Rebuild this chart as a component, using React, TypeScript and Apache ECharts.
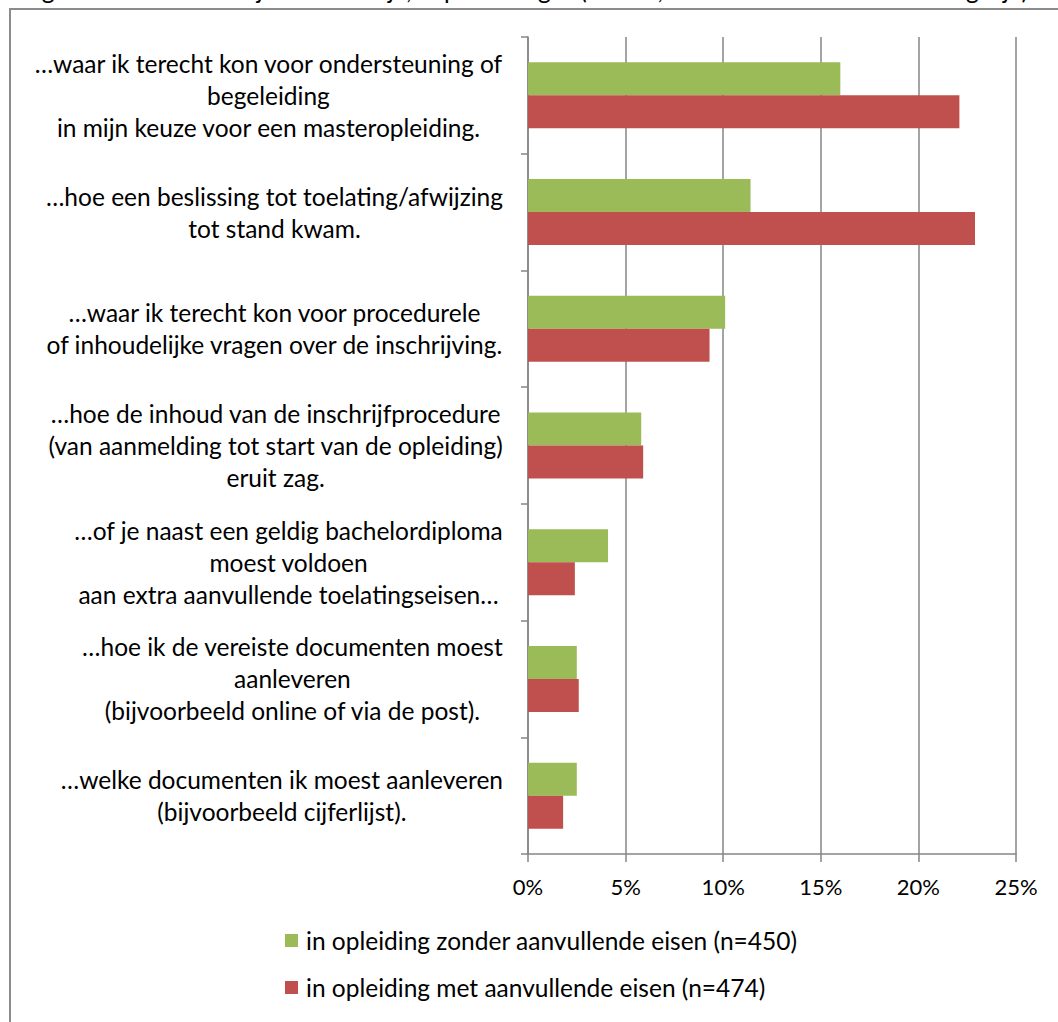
import React, { useEffect, useRef } from "react";
import * as echarts from "echarts";

const categories = [
  "…waar ik terecht kon voor ondersteuning of\nbegeleiding\nin mijn keuze voor een masteropleiding.",
  "…hoe een beslissing tot toelating/afwijzing\ntot stand kwam.",
  "…waar ik terecht kon voor procedurele\nof inhoudelijke vragen over de inschrijving.",
  "…hoe de inhoud van de inschrijfprocedure\n(van aanmelding tot start van de opleiding)\neruit zag.",
  "…of je naast een geldig bachelordiploma\nmoest voldoen\naan extra aanvullende toelatingseisen…",
  "…hoe ik de vereiste documenten moest\naanleveren\n(bijvoorbeeld online of via de post).",
  "…welke documenten ik moest aanleveren\n(bijvoorbeeld cijferlijst).",
];
const seriesNames = [
  "in opleiding zonder aanvullende eisen (n=450)",
  "in opleiding met aanvullende eisen (n=474)",
];
const zonderValues = [16.0, 11.4, 10.1, 5.8, 4.1, 2.5, 2.5];
const metValues = [22.1, 22.9, 9.3, 5.9, 2.4, 2.6, 1.8];
const xMin = 0;
const xMax = 25;
const xStep = 5;
const topText =
  "Figuur 3.4 Het was mij niet duidelijk, in percentages (n=924; meer dan één antwoord mogelijk)";

const FONT = "Lato";
const LABEL_SIZE = 24.5;
const GRID_COLOR = "#868686";

export default function App() {
  const ref = useRef<HTMLDivElement>(null);
  useEffect(() => {
    if (!ref.current) return;
    const chart = echarts.init(ref.current, undefined, { renderer: "svg" });
    chart.setOption({
      animation: false,
      backgroundColor: "#ffffff",
      textStyle: { fontFamily: FONT },
      graphic: [
        {
          type: "rect",
          shape: { x: 10, y: 9, width: 1200, height: 1200 },
          style: { fill: "none", stroke: "#8c8c8c", lineWidth: 2 },
          silent: true,
        },
        {
          type: "text",
          x: 22,
          y: 2,
          style: {
            text: topText,
            font: `${LABEL_SIZE}px ${FONT}`,
            fill: "#000",
            textAlign: "left",
            textVerticalAlign: "bottom",
          },
          silent: true,
        },
      ],
      grid: { left: 528, right: 42, top: 37, bottom: 168, containLabel: false },
      legend: {
        orient: "vertical",
        left: 285,
        top: 928,
        itemWidth: 13,
        itemHeight: 13,
        itemGap: 22,
        icon: "rect",
        padding: 0,
        textStyle: {
          fontSize: LABEL_SIZE,
          color: "#000",
          fontFamily: FONT,
          padding: [0, 0, 0, 3],
        },
        data: seriesNames,
      },
      xAxis: {
        type: "value",
        min: xMin,
        max: xMax,
        interval: xStep,
        axisLine: { show: true, lineStyle: { color: GRID_COLOR, width: 1.5 } },
        axisTick: { show: true, length: 8, lineStyle: { color: GRID_COLOR, width: 1.5 } },
        axisLabel: {
          formatter: "{value}%",
          fontSize: 22,
          color: "#000",
          margin: 21,
          fontFamily: FONT,
        },
        splitLine: { show: true, lineStyle: { color: GRID_COLOR, width: 1.5 } },
      },
      yAxis: {
        type: "category",
        data: categories,
        inverse: true,
        axisLine: { show: true, lineStyle: { color: GRID_COLOR, width: 1.5 } },
        axisTick: { show: true, length: 7, lineStyle: { color: GRID_COLOR, width: 1.5 } },
        axisLabel: {
          align: "right",
          margin: 25,
          fontSize: LABEL_SIZE,
          lineHeight: 32,
          color: "#000",
          fontFamily: FONT,
          formatter: (v: string) =>
            v
              .split("\n")
              .map((l) => `{c|${l}}`)
              .join("\n"),
          rich: {
            c: {
              align: "center",
              fontSize: LABEL_SIZE,
              lineHeight: 32,
              color: "#000",
              fontFamily: FONT,
            },
          },
        },
      },
      series: [
        {
          name: seriesNames[0],
          type: "bar",
          data: zonderValues,
          barWidth: 33,
          barGap: "0%",
          itemStyle: { color: "#9BBB59" },
        },
        {
          name: seriesNames[1],
          type: "bar",
          data: metValues,
          barWidth: 33,
          barGap: "0%",
          itemStyle: { color: "#C0504D" },
        },
      ],
    });
    return () => chart.dispose();
  }, []);
  return (
    <div
      ref={ref}
      style={{ position: "absolute", left: 0, top: 0, width: 1058, height: 1022 }}
    />
  );
}
